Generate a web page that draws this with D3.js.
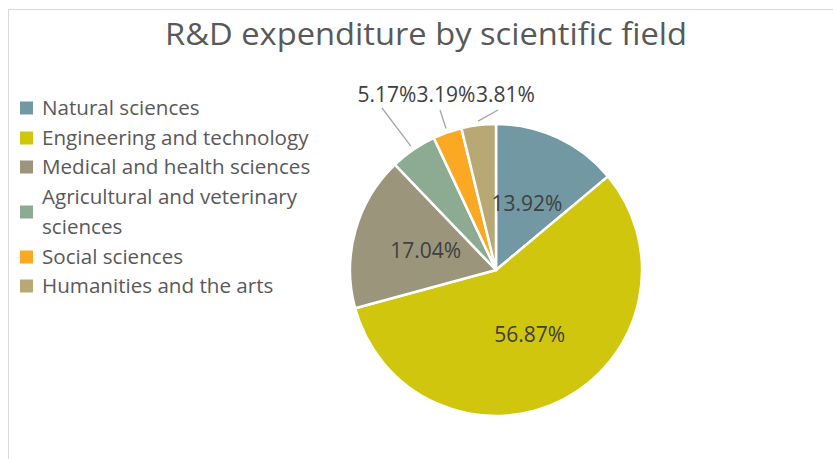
<!DOCTYPE html>
<html>
<head>
<meta charset="utf-8">
<script src="https://cdn.jsdelivr.net/npm/d3@7"></script>
<style>
  html, body { margin: 0; padding: 0; background: #fff; }
  svg { display: block; }
  text { font-family: "Open Sans", "Liberation Sans", sans-serif; }
</style>
</head>
<body>
<div id="chart"></div>
<script>
const title = "R&D expenditure by scientific field";
const categories = [
  "Natural sciences",
  "Engineering and technology",
  "Medical and health sciences",
  "Agricultural and veterinary sciences",
  "Social sciences",
  "Humanities and the arts"
];
const legendLines = [
  ["Natural sciences"],
  ["Engineering and technology"],
  ["Medical and health sciences"],
  ["Agricultural and veterinary", "sciences"],
  ["Social sciences"],
  ["Humanities and the arts"]
];
const values = [13.92, 56.87, 17.04, 5.17, 3.19, 3.81];
const colors = ["#7198A3", "#D1C60E", "#9B957B", "#8DAA93", "#FBA823", "#B8A873"];
const outsideLabel = [false, false, false, true, true, true];

const W = 833, H = 459;
const svg = d3.select("#chart").append("svg").attr("width", W).attr("height", H);

// frame
svg.append("rect").attr("x", 8.5).attr("y", 9.5).attr("width", W + 10).attr("height", H + 10)
  .attr("fill", "#fff").attr("stroke", "#d9d9d9").attr("stroke-width", 1);

svg.append("text").attr("x", 426).attr("y", 45).attr("text-anchor", "middle")
  .attr("font-size", 31).attr("fill", "#595959")
  .attr("textLength", 522).attr("lengthAdjust", "spacingAndGlyphs")
  .text(title);

const cx = 496, cy = 270, R = 146;
const pie = d3.pie().sort(null).value(d => d);
const arcs = pie(values);
const arc = d3.arc().innerRadius(0).outerRadius(R);
const labelArc = d3.arc().innerRadius(R * 0.5).outerRadius(R * 0.5);

const g = svg.append("g").attr("transform", `translate(${cx},${cy})`);
g.selectAll("path.slice").data(arcs).enter().append("path")
  .attr("class", "slice")
  .attr("d", arc)
  .attr("fill", (d, i) => colors[i])
  .attr("stroke", "#fff").attr("stroke-width", 2.5).attr("stroke-linejoin", "round");

// inside labels
g.selectAll("text.in").data(arcs.filter((d, i) => !outsideLabel[i])).enter().append("text")
  .attr("class", "in")
  .attr("transform", d => { const c = labelArc.centroid(d); return `translate(${c[0]},${c[1]})`; })
  .attr("text-anchor", "middle").attr("dy", "0.35em")
  .attr("font-size", 21).attr("fill", "#404040")
  .text(d => d.value.toFixed(2) + "%");

// outside labels in a row above the pie
const outs = arcs.map((d, i) => ({ d, i })).filter(o => outsideLabel[o.i]);
const labelCenters = [387, 446, 505.5];
const labelBaseline = 102;
const leaderEnds = [[382, 108], [440, 110], [498, 110]];
outs.forEach((o, k) => {
  const a = (o.d.startAngle + o.d.endAngle) / 2;
  const r0 = R + 4;
  const x0 = cx + Math.sin(a) * r0, y0 = cy - Math.cos(a) * r0;
  svg.append("line").attr("x1", x0).attr("y1", y0)
    .attr("x2", leaderEnds[k][0]).attr("y2", leaderEnds[k][1])
    .attr("stroke", "#a6a6a6").attr("stroke-width", 1.3);
  svg.append("text").attr("x", labelCenters[k]).attr("y", labelBaseline)
    .attr("text-anchor", "middle").attr("font-size", 21).attr("fill", "#404040")
    .text(o.d.value.toFixed(2) + "%");
});

// legend
const legendY = [108, 138, 167, 212, 257, 286];
const leg = svg.append("g");
legendLines.forEach((lines, i) => {
  leg.append("rect").attr("x", 20).attr("y", legendY[i] - 6.5).attr("width", 13).attr("height", 13)
    .attr("fill", colors[i]);
  const t = leg.append("text").attr("x", 42).attr("font-size", 20.6).attr("fill", "#595959");
  const n = lines.length;
  lines.forEach((ln, j) => {
    t.append("tspan").attr("x", 42)
      .attr("y", legendY[i] + (j - (n - 1) / 2) * 30)
      .attr("dy", "0.35em").text(ln);
  });
});
</script>
</body>
</html>
